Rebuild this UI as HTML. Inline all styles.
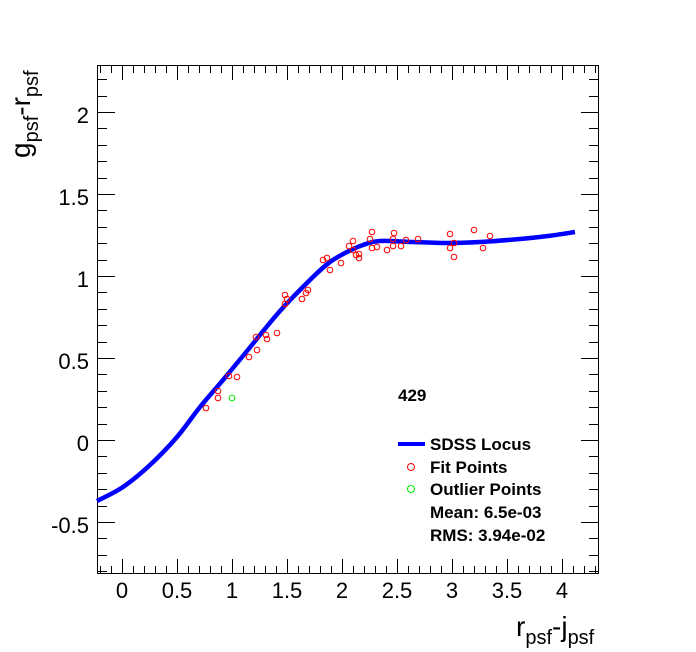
<!DOCTYPE html>
<html><head><meta charset="utf-8"><style>
body{margin:0;background:#fff;}
svg{display:block;font-family:"Liberation Sans",Arial,sans-serif;}
</style></head><body>
<svg id="s" width="696" height="652" xmlns="http://www.w3.org/2000/svg">
<rect x="0" y="0" width="696" height="652" fill="#fff"/>
<g id="ticks" stroke="#000" stroke-width="1"></g>
<rect x="97.5" y="65.5" width="501" height="508" fill="none" stroke="#000" stroke-width="1"/>
<g font-size="22" fill="#000" text-anchor="middle">
<text x="122" y="598">0</text><text x="177" y="598">0.5</text><text x="232" y="598">1</text>
<text x="287" y="598">1.5</text><text x="342" y="598">2</text><text x="397" y="598">2.5</text>
<text x="452" y="598">3</text><text x="507" y="598">3.5</text><text x="562" y="598">4</text>
</g>
<g font-size="22" fill="#000" text-anchor="end">
<text x="89" y="123">2</text><text x="89" y="205">1.5</text><text x="89" y="287">1</text>
<text x="89" y="369">0.5</text><text x="89" y="451">0</text><text x="89" y="533">-0.5</text>
</g>
<text x="516" y="636" font-size="28">r<tspan font-size="20" dy="8">psf</tspan><tspan dy="-8">-j</tspan><tspan font-size="20" dy="8">psf</tspan></text>
<text transform="translate(30,158) rotate(-90)" font-size="28">g<tspan font-size="20" dy="8">psf</tspan><tspan dy="-8">-r</tspan><tspan font-size="20" dy="8">psf</tspan></text>
<path id="curve" fill="none" stroke="#0000ff" stroke-width="4.5"/>
<g id="pts" fill="none" stroke="#ff0000" stroke-width="1"></g>
<circle cx="232" cy="398" r="2.8" fill="none" stroke="#00ee00" stroke-width="1"/>
<g font-size="17" font-weight="bold" fill="#000">
<text x="398" y="401">429</text>
<line x1="398" y1="444" x2="425" y2="444" stroke="#0000ff" stroke-width="4"/>
<text x="430" y="450">SDSS Locus</text>
<circle cx="411" cy="467" r="3.5" fill="none" stroke="#ff0000"/>
<text x="430" y="473">Fit Points</text>
<circle cx="411" cy="489" r="3.5" fill="none" stroke="#00ee00"/>
<text x="430" y="495">Outlier Points</text>
<text x="430" y="518">Mean: 6.5e-03</text>
<text x="430" y="541">RMS: 3.94e-02</text>
</g>
</svg>
<script>
var ns="http://www.w3.org/2000/svg",t=document.getElementById("ticks"),d="";
for(var i=-2;i<=43;i++){var x=122+i*11;if(x<98||x>598)continue;var L=(i%5==0)?14:7;
d+="M"+x+".5,573V"+(573-L)+"M"+x+".5,66V"+(66+L);}
for(var j=-8;j<=22;j++){var y=440-j*16.4;if(y<66||y>573)continue;var L=(j%5==0)?17:9;y=Math.round(y)+0.5;
d+="M98,"+y+"H"+(98+L)+"M598,"+y+"H"+(598-L);}
var p=document.createElementNS(ns,"path");p.setAttribute("d",d);t.appendChild(p);
var C=[[97,501],[123,487],[150,465],[177,437],[200,407],[223,380],[247,351],[280,311],[313,277],[330,262],[347,252],[363,245],[380,241],[413,242],[447,243],[480,242],[520,239],[548,236],[575,232]];
var cd="M"+C[0][0]+","+C[0][1];
for(var k=0;k<C.length-1;k++){var a=C[k>0?k-1:0],b=C[k],c=C[k+1],e=C[k+2<C.length?k+2:k+1];
cd+=" C"+(b[0]+(c[0]-a[0])/6)+","+(b[1]+(c[1]-a[1])/6)+" "+(c[0]-(e[0]-b[0])/6)+","+(c[1]-(e[1]-b[1])/6)+" "+c[0]+","+c[1];}
document.getElementById("curve").setAttribute("d",cd);
var P=[[206,408],[218,398],[218,391],[237,377],[229,376],[249,357],[257,350],[256,337],[267,339],[266,335],[277,333],[285,295],[287,299],[285,304],[302,299],[306,293],[308,290],[323,260],[327,258],[330,270],[341,263],[349,246],[353,241],[353,250],[356,255],[359,254],[359,258],[370,239],[372,232],[372,248],[377,247],[387,250],[394,233],[393,239],[393,246],[401,246],[406,240],[418,239],[450,234],[450,248],[454,257],[454,243],[474,230],[483,248],[490,236]];
var g=document.getElementById("pts");
P.forEach(function(q){var c=document.createElementNS(ns,"circle");c.setAttribute("cx",q[0]);c.setAttribute("cy",q[1]);c.setAttribute("r",2.8);g.appendChild(c);});
</script>
</body></html>
